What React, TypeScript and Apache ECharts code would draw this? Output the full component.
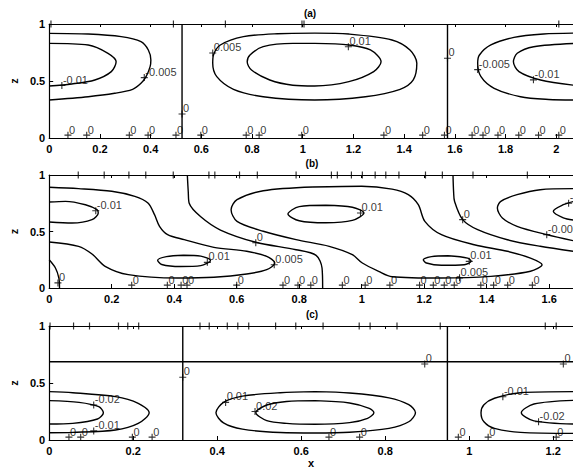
import React, { useEffect, useRef } from "react";
import * as echarts from "echarts";

type P = [number, number];
type L = [number, number, string];

// ---------- Panel (a) ----------
const A_LEFT_OUTER: P[] = [[0, 0.918], [0.154, 0.912], [0.284, 0.889], [0.362, 0.845], [0.391, 0.772], [0.401, 0.684], [0.398, 0.626], [0.382, 0.538], [0.362, 0.48], [0.329, 0.427], [0.258, 0.392], [0.154, 0.362], [0, 0.333]];
const A_LEFT_INNER: P[] = [[0, 0.83], [0.154, 0.816], [0.232, 0.743], [0.264, 0.669], [0.245, 0.582], [0.18, 0.509], [0.089, 0.474], [0, 0.456]];
const A_MID_OUTER: P[] = [[1.047, 0.92], [1.182, 0.912], [1.352, 0.86], [1.423, 0.772], [1.45, 0.655], [1.436, 0.509], [1.384, 0.427], [1.247, 0.362], [1.047, 0.333], [0.844, 0.362], [0.727, 0.427], [0.661, 0.538], [0.645, 0.655], [0.648, 0.728], [0.675, 0.816], [0.766, 0.889], [0.9, 0.915], [1.047, 0.92]];
const A_MID_INNER: P[] = [[1.047, 0.83], [1.182, 0.816], [1.267, 0.772], [1.309, 0.669], [1.28, 0.582], [1.182, 0.494], [1.047, 0.456], [0.961, 0.463], [0.87, 0.509], [0.798, 0.596], [0.781, 0.669], [0.792, 0.728], [0.844, 0.801], [0.961, 0.83], [1.047, 0.83]];
const A_RIGHT_OUTER: P[] = [[2.07, 0.92], [1.95, 0.912], [1.833, 0.883], [1.742, 0.816], [1.697, 0.728], [1.69, 0.655], [1.703, 0.538], [1.755, 0.436], [1.859, 0.362], [1.97, 0.338], [2.07, 0.333]];
const A_RIGHT_INNER: P[] = [[2.07, 0.83], [1.911, 0.801], [1.846, 0.743], [1.831, 0.669], [1.853, 0.582], [1.938, 0.509], [2.07, 0.463]];
const A_ZERO_1: P[] = [[0.524, 0], [0.524, 1]];
const A_ZERO_2: P[] = [[1.571, 0], [1.571, 1]];
const A_LABELS: L[] = [[0.05, 0.46, "-0.01"], [0.375, 0.53, "-0.005"], [0.524, 0.21, "0"], [0.645, 0.745, "0.005"], [1.18, 0.8, "0.01"], [1.571, 0.7, "0"], [1.69, 0.6, "-0.005"], [1.91, 0.51, "-0.01"]];
const A_BOTTOM_ZEROS: number[] = [0.074, 0.148, 0.316, 0.39, 0.5, 0.598, 0.777, 0.828, 0.996, 1.32, 1.473, 1.559, 1.668, 1.711, 1.77, 1.852, 1.93, 2.01];
const A_TOP_MARKS: number[] = [0.007, 0.49, 0.695, 0.997, 1.005, 2.01];

// ---------- Panel (b) ----------
const B_NEG_LEFT: P[] = [[0, 0.891], [0.094, 0.879], [0.2, 0.856], [0.274, 0.811], [0.316, 0.752], [0.337, 0.649], [0.353, 0.546], [0.379, 0.472], [0.432, 0.428], [0.527, 0.36], [0.632, 0.325], [0.696, 0.28], [0.722, 0.221], [0.696, 0.162], [0.632, 0.124], [0.527, 0.095], [0.411, 0.088], [0.253, 0.118], [0.179, 0.192], [0.137, 0.301], [0.094, 0.369], [0, 0.407]];
const B_NEG_LEFT_UP: P[] = [[0, 0.761], [0.052, 0.767], [0.116, 0.737], [0.153, 0.693], [0.157, 0.664], [0.137, 0.605], [0.073, 0.575], [0, 0.584]];
const B_NEG_LEFT_LOW: P[] = [[0.43, 0.29], [0.485, 0.282], [0.516, 0.244], [0.485, 0.198], [0.42, 0.19], [0.36, 0.208], [0.347, 0.245], [0.375, 0.278], [0.43, 0.29]];
const B_POS: P[] = [[0.843, 0.894], [1.0, 0.9], [1.097, 0.875], [1.149, 0.826], [1.181, 0.737], [1.202, 0.59], [1.255, 0.472], [1.36, 0.383], [1.466, 0.325], [1.54, 0.265], [1.577, 0.206], [1.54, 0.148], [1.413, 0.103], [1.255, 0.088], [1.097, 0.1], [1.054, 0.148], [1.002, 0.221], [0.97, 0.295], [0.896, 0.369], [0.79, 0.428], [0.685, 0.502], [0.601, 0.59], [0.582, 0.693], [0.601, 0.782], [0.685, 0.861], [0.843, 0.894]];
const B_POS_UP: P[] = [[0.885, 0.732], [0.97, 0.715], [1.007, 0.664], [0.97, 0.598], [0.885, 0.577], [0.8, 0.595], [0.764, 0.655], [0.8, 0.72], [0.885, 0.732]];
const B_POS_LOW: P[] = [[1.276, 0.286], [1.339, 0.265], [1.35, 0.236], [1.328, 0.206], [1.255, 0.201], [1.207, 0.221], [1.197, 0.25], [1.223, 0.278], [1.276, 0.286]];
const B_NEG_RIGHT: P[] = [[1.676, 0.879], [1.571, 0.87], [1.497, 0.826], [1.445, 0.767], [1.434, 0.708], [1.45, 0.62], [1.497, 0.546], [1.592, 0.472], [1.676, 0.419]];
const B_NEG_RIGHT_UP: P[] = [[1.676, 0.765], [1.645, 0.737], [1.613, 0.679], [1.645, 0.62], [1.676, 0.602]];
const B_ZERO_0: P[] = [[0, 0.25], [0.02, 0.177], [0.031, 0.088], [0.033, 0]];
const B_ZERO_1: P[] = [[0.442, 1], [0.445, 0.85], [0.448, 0.75], [0.485, 0.63], [0.548, 0.513], [0.661, 0.405], [0.79, 0.339], [0.854, 0.289], [0.873, 0.177], [0.875, 0]];
const B_ZERO_2: P[] = [[1.292, 1], [1.294, 0.85], [1.297, 0.767], [1.323, 0.605], [1.371, 0.516], [1.466, 0.427], [1.571, 0.369], [1.676, 0.325]];
const B_LABELS: L[] = [[0.149, 0.684, "-0.01"], [0.506, 0.227, "0.01"], [0.72, 0.206, "0.005"], [0.661, 0.4, "0"], [0.996, 0.664, "0.01"], [1.323, 0.605, "0"], [1.344, 0.236, "0.01"], [1.313, 0.09, "0.005"], [1.592, 0.472, "-0.005"], [1.662, 0.75, "-0.01"], [0.028, 0.045, "0"]];
const B_BOTTOM_ZEROS: number[] = [0.264, 0.378, 0.422, 0.441, 0.6, 0.748, 0.796, 0.837, 0.938, 1.011, 1.09, 1.185, 1.229, 1.264, 1.296, 1.381, 1.422, 1.467, 1.546];
const B_TOP_MARKS: number[] = [0.093, 0.176, 0.255, 0.309, 0.397, 0.511, 0.53, 0.609, 0.666, 0.79, 0.903, 0.922, 0.967, 1.002, 1.043, 1.077, 1.119, 1.204, 1.258, 1.356, 1.53];

// ---------- Panel (c) ----------
const C_LEFT_OUTER: P[] = [[0, 0.424], [0.056, 0.415], [0.158, 0.38], [0.212, 0.322], [0.238, 0.24], [0.212, 0.146], [0.158, 0.088], [0.056, 0.067], [0, 0.064]];
const C_LEFT_INNER: P[] = [[0, 0.345], [0.071, 0.33], [0.118, 0.292], [0.129, 0.24], [0.115, 0.184], [0.056, 0.146], [0, 0.14]];
const C_MID_OUTER: P[] = [[0.633, 0.424], [0.715, 0.412], [0.809, 0.37], [0.856, 0.31], [0.872, 0.24], [0.856, 0.16], [0.809, 0.102], [0.715, 0.068], [0.633, 0.062], [0.55, 0.066], [0.46, 0.095], [0.415, 0.15], [0.397, 0.24], [0.415, 0.33], [0.46, 0.385], [0.55, 0.415], [0.633, 0.424]];
const C_MID_INNER: P[] = [[0.633, 0.345], [0.715, 0.325], [0.762, 0.278], [0.773, 0.24], [0.758, 0.19], [0.715, 0.152], [0.633, 0.138], [0.565, 0.146], [0.518, 0.17], [0.492, 0.24], [0.518, 0.307], [0.565, 0.338], [0.633, 0.345]];
const C_RIGHT_OUTER: P[] = [[1.25, 0.424], [1.122, 0.415], [1.06, 0.366], [1.035, 0.31], [1.028, 0.24], [1.035, 0.16], [1.06, 0.102], [1.122, 0.067], [1.25, 0.058]];
const C_RIGHT_INNER: P[] = [[1.25, 0.348], [1.154, 0.316], [1.124, 0.24], [1.154, 0.168], [1.25, 0.14]];
const C_ZERO_V1: P[] = [[0.318, 0], [0.318, 1]];
const C_ZERO_V2: P[] = [[0.948, 0], [0.948, 1]];
const C_ZERO_H: P[] = [[0, 0.687], [1.25, 0.687]];
const C_LABELS: L[] = [[0.106, 0.307, "-0.02"], [0.106, 0.08, "-0.01"], [0.318, 0.55, "0"], [0.42, 0.33, "0.01"], [0.49, 0.25, "0.02"], [0.894, 0.667, "0"], [1.224, 0.667, "0"], [1.08, 0.38, "-0.01"], [1.165, 0.16, "-0.02"]];
const C_BOTTOM_ZEROS: number[] = [0.047, 0.075, 0.198, 0.245, 0.666, 0.739, 0.974, 1.045, 1.207];
const C_TOP_MARKS: number[] = [0.002, 0.058, 0.096, 0.165, 0.187, 0.213, 0.359, 0.381, 0.424, 0.449, 0.475, 0.539, 0.587, 0.652, 0.738, 0.764, 0.828, 0.931, 1.181, 1.207];

const X_MAX = [2.066, 1.676, 1.247];
const PANEL_TITLES = ["(a)", "(b)", "(c)"];
const Y_TICKS = [0, 0.5, 1];

const FONT = '"Liberation Sans", Arial, Helvetica, sans-serif';
const PLUS = "path://M0,5 L10,5 M5,0 L5,10";

const GRIDS = [
  { left: 44, top: 24, width: 529, height: 114 },
  { left: 43.5, top: 175, width: 529.5, height: 113 },
  { left: 43, top: 326, width: 530, height: 114 },
];

function fmtX(v: number): string {
  const k = v / 0.2;
  if (Math.abs(k - Math.round(k)) > 1e-6) return "";
  return String(Number(v.toFixed(2)));
}

function buildOption() {
  const panels = [
    { curves: [A_LEFT_OUTER, A_LEFT_INNER, A_MID_OUTER, A_MID_INNER, A_RIGHT_OUTER, A_RIGHT_INNER, A_ZERO_1, A_ZERO_2], labels: A_LABELS, zeros: A_BOTTOM_ZEROS, marks: A_TOP_MARKS },
    { curves: [B_NEG_LEFT, B_NEG_LEFT_UP, B_NEG_LEFT_LOW, B_POS, B_POS_UP, B_POS_LOW, B_NEG_RIGHT, B_NEG_RIGHT_UP, B_ZERO_0, B_ZERO_1, B_ZERO_2], labels: B_LABELS, zeros: B_BOTTOM_ZEROS, marks: B_TOP_MARKS },
    { curves: [C_LEFT_OUTER, C_LEFT_INNER, C_MID_OUTER, C_MID_INNER, C_RIGHT_OUTER, C_RIGHT_INNER, C_ZERO_V1, C_ZERO_V2, C_ZERO_H], labels: C_LABELS, zeros: C_BOTTOM_ZEROS, marks: C_TOP_MARKS },
  ];

  const xAxis: any[] = [];
  const yAxis: any[] = [];
  const series: any[] = [];
  const axisLine = { show: true, lineStyle: { color: "#000", width: 1.2 } };

  panels.forEach((p, i) => {
    xAxis.push({
      type: "value", gridIndex: i, position: "bottom", min: 0, max: X_MAX[i], interval: 0.2,
      axisLine, splitLine: { show: false },
      axisTick: { show: true, inside: true, length: 4, lineStyle: { color: "#000", width: 1 } },
      axisLabel: { show: true, color: "#000", fontFamily: FONT, fontSize: 11, fontWeight: "bold", margin: 5, formatter: fmtX, showMaxLabel: false },
      name: i === 2 ? "x" : "", nameLocation: "middle", nameGap: 17,
      nameTextStyle: { color: "#000", fontFamily: FONT, fontSize: 11, fontWeight: "bold" },
    });
    xAxis.push({
      type: "value", gridIndex: i, position: "top", min: 0, max: X_MAX[i], interval: 0.2,
      axisLine, splitLine: { show: false },
      axisTick: { show: true, inside: true, length: 3, lineStyle: { color: "#000", width: 1 } },
      axisLabel: { show: false },
    });
    yAxis.push({
      type: "value", gridIndex: i, min: 0, max: 1, interval: 0.5,
      axisLine, splitLine: { show: false },
      axisTick: { show: true, inside: true, length: 4, lineStyle: { color: "#000", width: 1 } },
      axisLabel: { show: true, color: "#000", fontFamily: FONT, fontSize: 11, fontWeight: "bold", margin: 4, formatter: (v: number) => (Y_TICKS.includes(v) ? String(v) : "") },
      name: "z", nameLocation: "middle", nameRotate: 90, nameGap: 23,
      nameTextStyle: { color: "#000", fontFamily: FONT, fontSize: 11, fontWeight: "bold" },
    });

    p.curves.forEach((c) => {
      series.push({
        type: "line", xAxisIndex: 2 * i, yAxisIndex: i, data: c, smooth: 0.3,
        showSymbol: false, symbol: "none", silent: true,
        lineStyle: { color: "#000", width: 1.4 },
      });
    });

    const labelStyle = {
      show: true, position: "right", distance: 0, offset: [-3, -6],
      color: "#000", fontFamily: FONT, fontSize: 11,
      formatter: (q: any) => q.name,
    };
    series.push({
      type: "scatter", xAxisIndex: 2 * i, yAxisIndex: i, clip: false, silent: true,
      symbol: PLUS, symbolSize: 7,
      itemStyle: { color: "transparent", borderColor: "#000", borderWidth: 1.1 },
      label: labelStyle,
      data: p.labels.map(([x, z, t]) => ({ value: [x, z], name: t })),
    });
    series.push({
      type: "scatter", xAxisIndex: 2 * i, yAxisIndex: i, clip: false, silent: true,
      symbol: PLUS, symbolSize: 7,
      itemStyle: { color: "transparent", borderColor: "#000", borderWidth: 1.1 },
      label: { ...labelStyle, offset: [-3, -5] },
      data: p.zeros.map((x) => ({ value: [x, 0.025], name: "0" })),
    });
    series.push({
      type: "scatter", xAxisIndex: 2 * i, yAxisIndex: i, clip: false, silent: true,
      symbol: "rect", symbolSize: [1.2, 7],
      itemStyle: { color: "#000" },
      data: p.marks.map((x) => [x, 1]),
    });
  });

  const titlePos = [[310, 13], [312, 163], [312, 314]];
  const graphic = PANEL_TITLES.map((t, i) => ({
    type: "text", x: titlePos[i][0], y: titlePos[i][1], silent: true,
    style: { text: t, fill: "#000", font: `bold 10px ${FONT}`, align: "center", verticalAlign: "middle" },
  }));

  return {
    animation: false,
    backgroundColor: "#fff",
    grid: GRIDS,
    xAxis, yAxis, series, graphic,
  };
}

export default function App() {
  const ref = useRef<HTMLDivElement>(null);
  useEffect(() => {
    if (!ref.current) return;
    const chart = echarts.init(ref.current, undefined, { renderer: "svg" });
    chart.setOption(buildOption() as any);
    return () => chart.dispose();
  }, []);
  return (
    <div
      ref={ref}
      style={{ position: "absolute", left: 0, top: 0, width: 573, height: 469, background: "#fff" }}
    />
  );
}
